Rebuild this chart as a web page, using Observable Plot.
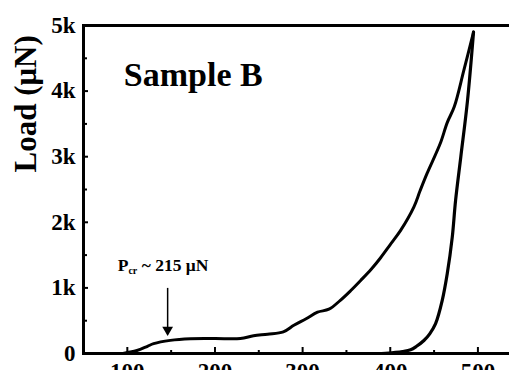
<!DOCTYPE html>
<html><head><meta charset="utf-8">
<script src="https://cdn.jsdelivr.net/npm/d3@7"></script>
<script src="https://cdn.jsdelivr.net/npm/@observablehq/plot@0.6"></script>
<style>
html,body{margin:0;padding:0;overflow:hidden;background:#fff}
</style>
</head><body><div id="chart"></div>
<script>
// Loading curve: displacement (nm) vs load (µN)
const loadX = [95, 100, 111, 123, 130, 149, 172, 200, 229, 244, 260, 278, 290, 304, 317, 330, 343, 355, 366, 378, 389, 400, 412, 427, 434, 442, 457, 465, 473, 484, 495];
const loadY = [0, 15, 45, 110, 150, 200, 225, 228, 228, 270, 295, 330, 430, 530, 630, 675, 810, 960, 1110, 1280, 1460, 1660, 1880, 2235, 2480, 2745, 3200, 3520, 3760, 4320, 4900];
// Unloading curve
const unloadX = [495, 488, 480.5, 474.5, 470.7, 465, 459.3, 451.7, 445, 438.4, 430, 423.2, 414, 404, 390];
const unloadY = [4900, 3840, 3000, 2330, 1770, 1215, 810, 455, 300, 198, 110, 56, 30, 15, 0];

const yMajor = [0, 1000, 2000, 3000, 4000, 5000];
const yTickLabels = ["0", "1k", "2k", "3k", "4k", "5k"];
const yMinor = [500, 1500, 2500, 3500, 4500];
const xMajor = [100, 200, 300, 400, 500];
const xMinor = [150, 250, 350, 450, 550];

const titleText = "Sample B";
const yLabel = "Load (\u03BCN)";
const pcrText = "P~ 215 \u03BCN";
const pcrPos = {x: 89, y: 1340};
const arrowX = 146, arrowTop = 1000, arrowTip = 360;

const loading = loadX.map((x, i) => ({x, y: loadY[i]}));
const unloading = unloadX.map((x, i) => ({x, y: unloadY[i]}));

const W = 540, H = 390, mL = 83, mR = 10, mT = 25, mB = 37;
const pw = W - mL - mR, ph = H - mT - mB;
const font = "Liberation Serif";

const chart = Plot.plot({
  width: W, height: H,
  marginLeft: mL, marginRight: mR, marginTop: mT, marginBottom: mB,
  style: {fontFamily: font, fontWeight: "bold", fontSize: "23px", color: "black", background: "white", maxWidth: "none"},
  x: {domain: [50, 560]},
  y: {domain: [0, 5000]},
  marks: [
    Plot.axisY(yMajor, {tickSize: 0, tickPadding: 8, tickFormat: d => yTickLabels[yMajor.indexOf(d)], label: null, fontFamily: font, fontWeight: "bold"}),
    Plot.axisX(xMajor, {tickSize: 0, tickPadding: 9, label: null, fontFamily: font, fontWeight: "bold"}),
    Plot.tickY(yMajor, {y: d => d, insetRight: pw - 5, strokeWidth: 2}),
    Plot.tickY(yMinor, {y: d => d, insetRight: pw - 4, strokeWidth: 2}),
    Plot.tickX(xMajor, {x: d => d, insetTop: ph - 6, strokeWidth: 2}),
    Plot.tickX(xMinor, {x: d => d, insetTop: ph - 3, strokeWidth: 2}),
    Plot.line(loading, {x: "x", y: "y", stroke: "black", strokeWidth: 3, curve: "catmull-rom"}),
    Plot.line(unloading, {x: "x", y: "y", stroke: "black", strokeWidth: 3.2, curve: "catmull-rom"}),
    Plot.frame({stroke: "black", strokeWidth: 3}),
    Plot.text([titleText], {x: 96, y: 4240, text: d => d, textAnchor: "start", lineAnchor: "middle", fontSize: 34, fontWeight: "bold", fontFamily: font}),
    Plot.text([pcrText], {x: pcrPos.x, y: pcrPos.y, text: d => d, textAnchor: "start", lineAnchor: "middle", fontSize: 17.5, fontWeight: "bold", fontFamily: font}),
    Plot.link([0], {x1: arrowX, x2: arrowX, y1: arrowTop, y2: arrowTip, stroke: "black", strokeWidth: 1.5}),
    Plot.dot([0], {x: arrowX, y: arrowTip, symbol: "triangle", r: 4, rotate: 180, fill: "black", stroke: "none"}),
    Plot.text([yLabel], {frameAnchor: "left", text: d => d, rotate: -90, dx: -57, dy: -17, fontSize: 31, fontWeight: "bold", fontFamily: font})
  ]
});
chart.style.maxWidth = "none";
chart.style.height = H + "px";
chart.style.width = W + "px";
document.getElementById("chart").appendChild(chart);
d3.select(chart).selectAll("text").filter(function() { return this.textContent === pcrText; })
  .each(function() {
    const t = d3.select(this);
    t.text("");
    t.append("tspan").text("P");
    t.append("tspan").attr("font-size", "10px").attr("dy", "3").text("cr");
    t.append("tspan").attr("dy", "-3").text(" ~ 215 \u03BCN");
  });
</script>
</body></html>
